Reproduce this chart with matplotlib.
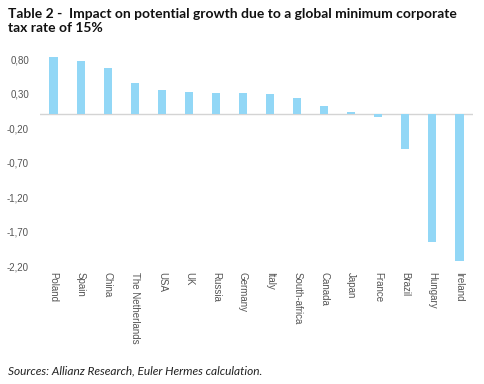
import matplotlib.pyplot as plt
from matplotlib.ticker import FuncFormatter

# Datos
countries = ["Poland", "Spain", "China", "The Netherlands", "USA", "UK", "Russia",
             "Germany", "Italy", "South-africa", "Canada", "Japan", "France",
             "Brazil", "Hungary", "Ireland"]
impact = [0.83, 0.77, 0.67, 0.45, 0.35, 0.33, 0.31, 0.31, 0.29, 0.24, 0.12,
          0.03, -0.045, -0.50, -1.85, -2.13]
yticks = [0.80, 0.30, -0.20, -0.70, -1.20, -1.70, -2.20]

plt.rcParams['font.family'] = ['Liberation Sans', 'DejaVu Sans']

fig = plt.figure(figsize=(4.85, 3.84), dpi=100)
ax = fig.add_axes([40 / 485, 0.307, 433 / 485, 0.557])

x = range(len(countries))
ax.bar(x, impact, width=0.3, color="#92d7f6", zorder=2)
ax.axhline(0, color="#d4d4d4", lw=1, zorder=1)

ax.set_xlim(-0.5, len(countries) - 0.5)
ax.set_ylim(-2.2, 0.9)
ax.set_yticks(yticks)
ax.yaxis.set_major_formatter(FuncFormatter(lambda v, p: f"{v:.2f}".replace(".", ",")))
ax.set_xticks(list(x))
ax.set_xticklabels(countries, rotation=270, va="top", ha="center")
ax.tick_params(axis="both", length=0, labelsize=7, colors="#555555")
ax.tick_params(axis="x", pad=4)
ax.tick_params(axis="y", pad=8)
for s in ax.spines.values():
    s.set_visible(False)

fig.text(8 / 485, 1 - 21 / 384,
         "Table 2 -  Impact on potential growth due to a global minimum corporate\ntax rate of 15%",
         fontsize=10, fontweight="bold", family="Lato", va="center",
         linespacing=1.3, color="#111111")
fig.text(8 / 485, 1 - 371 / 384, "Sources: Allianz Research, Euler Hermes calculation.",
         fontsize=8.6, style="italic", family="Lato", va="center", color="#222222")

fig.savefig("out.png", dpi=100)
